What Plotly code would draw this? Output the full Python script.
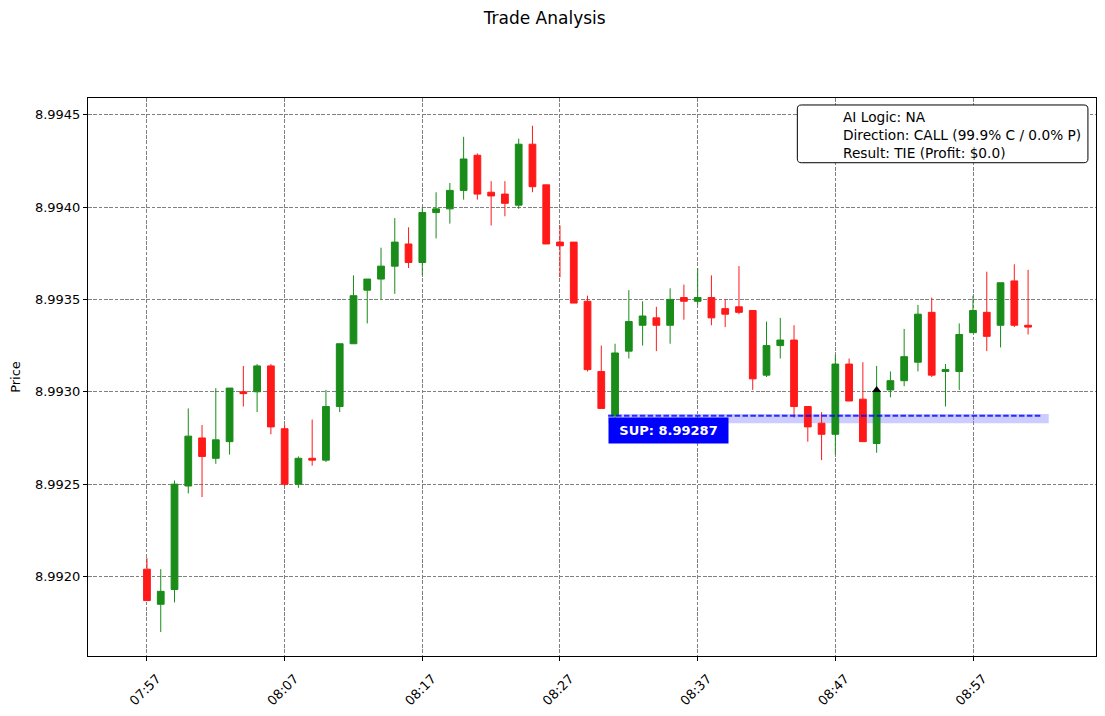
import pandas as pd
import plotly.graph_objects as go

# candle data (1-minute bars)
times = pd.date_range("2024-01-01 07:57", periods=65, freq="1min")
opens = [8.99204, 8.99185, 8.99193, 8.99249, 8.99275, 8.99264, 8.99273, 8.99300, 8.99300, 8.99314,
         8.99280, 8.99250, 8.99264, 8.99263, 8.99292, 8.99326, 8.99355, 8.99361, 8.99368, 8.99380,
         8.99370, 8.99397, 8.99399, 8.99409, 8.99428, 8.99408, 8.99407, 8.99401, 8.99434, 8.99412,
         8.99381, 8.99381, 8.99349, 8.99311, 8.99287, 8.99322, 8.99336, 8.99340, 8.99336, 8.99351,
         8.99349, 8.99351, 8.99345, 8.99346, 8.99344, 8.99309, 8.99325, 8.99328, 8.99292, 8.99283,
         8.99277, 8.99315, 8.99296, 8.99272, 8.99301, 8.99306, 8.99316, 8.99343, 8.99311, 8.99311,
         8.99332, 8.99343, 8.99336, 8.99360, 8.99336]
highs = [8.99210, 8.99204, 8.99252, 8.99291, 8.99282, 8.99302, 8.99302, 8.99314, 8.99315, 8.99315,
         8.99282, 8.99265, 8.99285, 8.99301, 8.99326, 8.99363, 8.99361, 8.99378, 8.99394, 8.99389,
         8.99400, 8.99408, 8.99413, 8.99438, 8.99429, 8.99414, 8.99414, 8.99437, 8.99444, 8.99412,
         8.99390, 8.99381, 8.99352, 8.99325, 8.99326, 8.99355, 8.99349, 8.99346, 8.99356, 8.99358,
         8.99367, 8.99363, 8.99350, 8.99368, 8.99344, 8.99338, 8.99340, 8.99336, 8.99292, 8.99289,
         8.99320, 8.99318, 8.99316, 8.99314, 8.99311, 8.99334, 8.99347, 8.99351, 8.99315, 8.99337,
         8.99352, 8.99365, 8.99359, 8.99369, 8.99366]
lows = [8.99187, 8.99170, 8.99186, 8.99245, 8.99243, 8.99261, 8.99266, 8.99292, 8.99289, 8.99277,
        8.99249, 8.99248, 8.99260, 8.99262, 8.99289, 8.99326, 8.99337, 8.99350, 8.99353, 8.99367,
        8.99363, 8.99383, 8.99391, 8.99404, 8.99404, 8.99390, 8.99395, 8.99399, 8.99408, 8.99380,
        8.99362, 8.99348, 8.99311, 8.99291, 8.99285, 8.99318, 8.99325, 8.99322, 8.99326, 8.99339,
        8.99347, 8.99336, 8.99335, 8.99342, 8.99301, 8.99308, 8.99318, 8.99286, 8.99273, 8.99263,
        8.99266, 8.99295, 8.99273, 8.99267, 8.99297, 8.99303, 8.99311, 8.99308, 8.99292, 8.99301,
        8.99332, 8.99322, 8.99324, 8.99335, 8.99331]
closes = [8.99187, 8.99192, 8.99250, 8.99276, 8.99265, 8.99274, 8.99302, 8.99299, 8.99314, 8.99281,
          8.99250, 8.99264, 8.99263, 8.99292, 8.99326, 8.99352, 8.99361, 8.99368, 8.99381, 8.99370,
          8.99397, 8.99399, 8.99409, 8.99426, 8.99407, 8.99406, 8.99402, 8.99434, 8.99411, 8.99380,
          8.99379, 8.99348, 8.99312, 8.99291, 8.99321, 8.99338, 8.99341, 8.99336, 8.99350, 8.99349,
          8.99351, 8.99340, 8.99342, 8.99343, 8.99307, 8.99325, 8.99328, 8.99292, 8.99281, 8.99277,
          8.99315, 8.99295, 8.99273, 8.99300, 8.99306, 8.99319, 8.99342, 8.99309, 8.99312, 8.99331,
          8.99344, 8.99330, 8.99359, 8.99336, 8.99335]

# trade info
entry_time = "2024-01-01 08:50"
entry_price = 8.99301
support = 8.99287
support_zone = [8.99283, 8.99288]
support_span = ["2024-01-01 08:30:30", "2024-01-01 09:02:00", "2024-01-01 09:02:30"]
info_lines = ["AI Logic: NA",
              "Direction: CALL (99.9% C / 0.0% P)",
              "Result: TIE (Profit: $0.0)"]
tick_times = pd.date_range("2024-01-01 07:57", periods=7, freq="10min")

GREEN = "rgb(25,140,25)"
RED = "rgb(255,25,25)"
FONT = "DejaVu Sans"


def rounded_box(x0, x1, y0, y1, rx, ry):
    """SVG path for a rectangle with rounded corners (paper coords)."""
    return (f"M {x0 + rx},{y0} L {x1 - rx},{y0} Q {x1},{y0} {x1},{y0 + ry} "
            f"L {x1},{y1 - ry} Q {x1},{y1} {x1 - rx},{y1} "
            f"L {x0 + rx},{y1} Q {x0},{y1} {x0},{y1 - ry} "
            f"L {x0},{y0 + ry} Q {x0},{y0} {x0 + rx},{y0} Z")


fig = go.Figure()

fig.add_trace(go.Candlestick(
    x=times, open=opens, high=highs, low=lows, close=closes,
    increasing=dict(line=dict(color=GREEN, width=1), fillcolor=GREEN),
    decreasing=dict(line=dict(color=RED, width=1), fillcolor=RED),
    showlegend=False,
))

fig.add_trace(go.Scatter(
    x=[entry_time], y=[entry_price], mode="markers",
    marker=dict(symbol="triangle-up", size=8, color="black"),
    showlegend=False,
))

# support zone + line
fig.add_shape(type="rect", xref="x", yref="y",
              x0=support_span[0], x1=support_span[2],
              y0=support_zone[0], y1=support_zone[1],
              fillcolor="rgba(0,0,255,0.2)", line_width=0, layer="below")
fig.add_shape(type="line", xref="x", yref="y",
              x0=support_span[0], x1=support_span[1], y0=support, y1=support,
              line=dict(color="rgba(0,0,255,0.8)", width=2, dash="5.5px,2.4px"))
fig.add_annotation(x=support_span[0], y=8.99279, xref="x", yref="y",
                   text="<b>SUP: %.5f</b>" % support, showarrow=False,
                   xanchor="left", yanchor="middle",
                   width=111, height=17, align="center",
                   font=dict(family=FONT, size=13, color="white"),
                   bgcolor="blue", borderpad=4)

# info box
fig.add_shape(type="path", xref="paper", yref="paper",
              path=rounded_box(0.7037, 0.992, 0.884, 0.9875, 0.004, 0.007),
              line=dict(color="black", width=1), fillcolor="white")
fig.add_annotation(x=0.7473, y=0.9345, xref="paper", yref="paper",
                   text="<br>".join(info_lines), showarrow=False,
                   xanchor="left", yanchor="middle", align="left",
                   font=dict(family=FONT, size=13.7, color="black"))

# page body has an 8px margin, so the figure is sized to fit inside it
fig.update_layout(
    width=1089, height=700,
    margin=dict(l=80, r=0, t=90, b=50),
    paper_bgcolor="white", plot_bgcolor="white",
    font=dict(family=FONT, size=13, color="black"),
    title=dict(text="Trade Analysis", x=0.4928, xanchor="center",
               y=0.9857, yanchor="middle", font=dict(size=17)),
    xaxis=dict(
        rangeslider=dict(visible=False),
        range=["2024-01-01 07:52:43", "2024-01-01 09:05:56"],
        tickvals=tick_times, ticktext=[t.strftime("%H:%M") for t in tick_times],
        tickangle=-45, ticks="outside", ticklen=4, tickcolor="black",
        ticklabelshift=10, ticklabelstandoff=5,
        showgrid=True, gridcolor="gray", griddash="3.7px,1.6px", gridwidth=1,
        showline=True, linecolor="black", linewidth=1, mirror=True,
        zeroline=False,
    ),
    yaxis=dict(
        range=[8.99157, 8.99459],
        tick0=8.992, dtick=0.0005, tickformat=".4f",
        ticks="outside", ticklen=4, tickcolor="black",
        showgrid=True, gridcolor="gray", griddash="3.7px,1.6px", gridwidth=1,
        showline=True, linecolor="black", linewidth=1, mirror=True,
        zeroline=False,
        title=dict(text="Price", standoff=17, font=dict(size=13)),
    ),
)

fig.write_html("out.html")
